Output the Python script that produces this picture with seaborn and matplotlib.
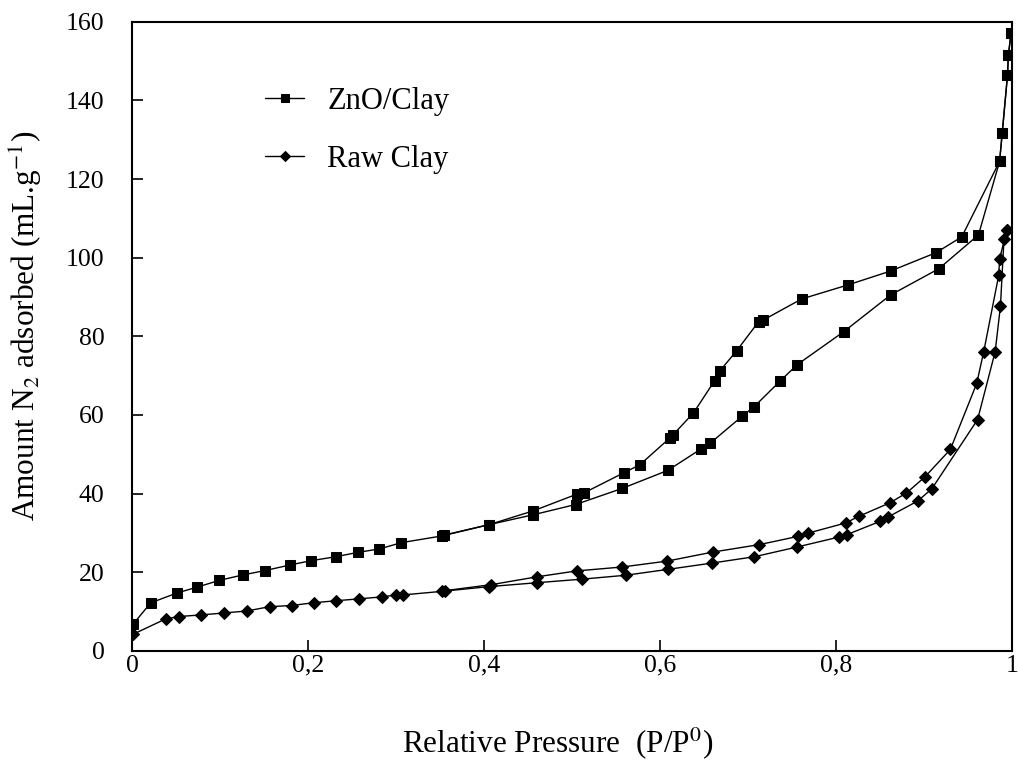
import matplotlib
matplotlib.use("Agg")
import matplotlib.pyplot as plt
import matplotlib.ticker as mticker
import seaborn as sns
import pandas as pd

# ZnO/Clay isotherm: adsorption and desorption branches (P/P0, mL/g)
zno_ads_p = [0.001, 0.021, 0.051, 0.074, 0.099, 0.126, 0.151, 0.179, 0.203, 0.231,
             0.256, 0.281, 0.306, 0.352, 0.406, 0.456, 0.504, 0.557, 0.609, 0.647,
             0.657, 0.693, 0.707, 0.736, 0.756, 0.809, 0.862, 0.917, 0.962, 0.986,
             0.989, 0.995, 0.996, 0.999]
zno_ads_v = [6.8, 12.2, 14.7, 16.2, 17.9, 19.3, 20.4, 21.8, 22.9, 23.9,
             25.0, 25.9, 27.5, 29.2, 32.1, 34.6, 37.2, 41.3, 45.9, 51.4,
             52.8, 59.6, 62.1, 68.5, 72.8, 81.2, 90.5, 97.2, 105.8, 124.5,
             131.7, 146.4, 151.5, 157.1]

zno_des_p = [0.999, 0.996, 0.995, 0.989, 0.986, 0.943, 0.914, 0.862, 0.814, 0.761,
             0.717, 0.712, 0.687, 0.668, 0.662, 0.638, 0.615, 0.611, 0.577, 0.559,
             0.513, 0.505, 0.456, 0.406, 0.354]
zno_des_v = [157.1, 151.5, 146.4, 131.7, 124.5, 105.3, 101.3, 96.6, 93.1, 89.5,
             84.1, 83.7, 76.3, 71.2, 68.7, 60.5, 55.0, 54.1, 47.3, 45.3,
             40.1, 39.8, 35.6, 32.1, 29.4]

# Raw clay isotherm
raw_ads_p = [0.001, 0.038, 0.053, 0.078, 0.104, 0.130, 0.156, 0.181, 0.206, 0.231,
             0.258, 0.284, 0.300, 0.308, 0.352, 0.405, 0.460, 0.511, 0.561, 0.609,
             0.659, 0.707, 0.756, 0.803, 0.812, 0.850, 0.859, 0.893, 0.909, 0.961,
             0.981, 0.987, 0.991, 0.994]
raw_ads_v = [4.2, 8.1, 8.7, 9.1, 9.6, 10.1, 11.2, 11.5, 12.2, 12.7,
             13.2, 13.7, 14.2, 14.2, 15.1, 16.3, 17.3, 18.2, 19.2, 20.7,
             22.3, 23.9, 26.4, 28.9, 29.5, 32.9, 34.0, 38.1, 41.2, 58.8,
             76.1, 87.7, 104.7, 107.0]

raw_des_p = [0.994, 0.986, 0.985, 0.968, 0.960, 0.930, 0.901, 0.880, 0.861, 0.826,
             0.811, 0.768, 0.757, 0.713, 0.660, 0.608, 0.557, 0.505, 0.460, 0.408,
             0.356]
raw_des_v = [107.0, 99.6, 95.5, 76.1, 68.0, 51.2, 44.2, 40.1, 37.6, 34.2,
             32.5, 29.9, 29.1, 27.0, 25.1, 22.8, 21.3, 20.3, 18.8, 16.8,
             15.3]

x_ticks = [0, 0.2, 0.4, 0.6, 0.8, 1.0]
y_ticks = [0, 20, 40, 60, 80, 100, 120, 140, 160]

sns.set_theme(style="white")
plt.rcParams["font.family"] = ["Liberation Serif", "DejaVu Serif"]
plt.rcParams["mathtext.fontset"] = "stix"
plt.rcParams["text.color"] = "black"
plt.rcParams["axes.labelcolor"] = "black"

fig = plt.figure(figsize=(10.18, 7.65), dpi=100)
ax = fig.add_axes([0.130, 0.1494, 0.864, 0.822])

branches = [
    ("ZnO/Clay", zno_ads_p, zno_ads_v, "s"),
    (None, zno_des_p, zno_des_v, "s"),
    ("Raw Clay", raw_ads_p, raw_ads_v, "D"),
    (None, raw_des_p, raw_des_v, "D"),
]
for label, p, v, m in branches:
    df = pd.DataFrame({"p": p, "v": v})
    ms = 7.5 if m == "s" else 6.5
    sns.lineplot(data=df, x="p", y="v", sort=False, estimator=None, ax=ax,
                 color="black", linewidth=1.0, marker=m, markersize=ms,
                 markeredgecolor="black", markerfacecolor="black",
                 label=label if label else "_nolegend_", legend=False)

ax.set_xlim(0, 1.0)
ax.set_ylim(0, 160)
ax.set_xticks(x_ticks)
ax.set_yticks(y_ticks)
ax.xaxis.set_major_formatter(mticker.FuncFormatter(
    lambda x, _: "0" if x == 0 else ("1" if x == 1 else f"{x:.1f}".replace(".", ","))))
ax.tick_params(direction="in", length=8, width=1.2, labelsize=18.5,
               colors="black", bottom=True, left=True, top=False, right=False)
ax.tick_params(axis="y", pad=20)
ax.tick_params(axis="x", pad=3)
for s in ax.spines.values():
    s.set_color("black")
    s.set_linewidth(1.5)

ax.set_xlabel("Relative Pressure  (P/P$^{0}$)", fontsize=22.5)
ax.set_ylabel("Amount N$_{2}$ adsorbed (mL.g$^{-1}$)", fontsize=22.5)
ax.xaxis.set_label_coords(0.484, -0.118)
ax.yaxis.set_label_coords(-0.099, 0.516)

h, l = ax.get_legend_handles_labels()
leg = ax.legend(h, l, loc="upper left", bbox_to_anchor=(0.151, 0.897), frameon=False,
                fontsize=22, markerscale=0.75, handlelength=1.28, labelspacing=0.95,
                handletextpad=0.75, borderpad=0, borderaxespad=0)

fig.savefig("out.png", dpi=100, facecolor="white")
